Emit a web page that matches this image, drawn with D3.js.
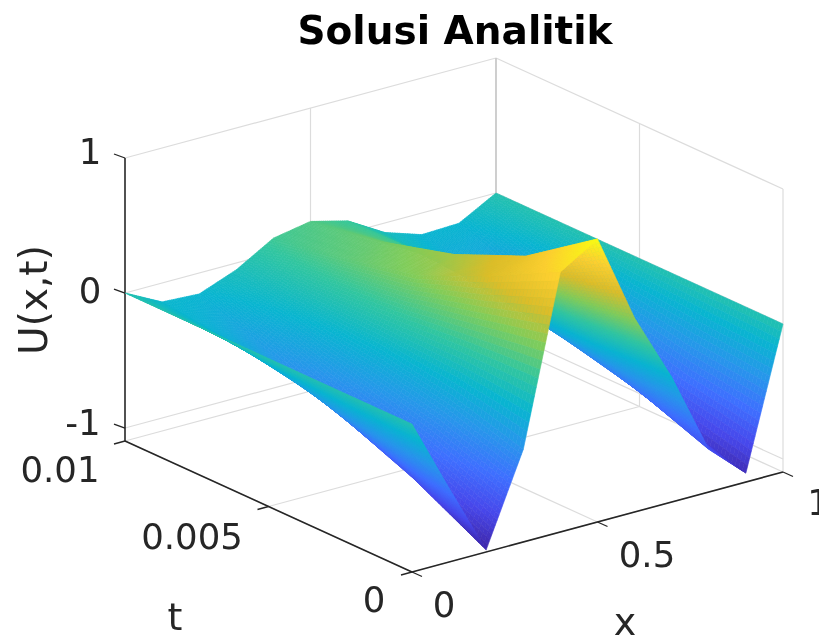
<!DOCTYPE html>
<html>
<head>
<meta charset="utf-8">
<style>
  html, body { margin: 0; padding: 0; background: #fff; overflow: hidden; }
  text { font-family: "DejaVu Sans", sans-serif; fill: #262626; }
  #chart { filter: blur(0.45px); }
</style>
</head>
<body>
<svg id="chart" width="819" height="639"></svg>
<script src="https://d3js.org/d3.v7.min.js"></script>
<script>
// grid of the surface
const xValues = [0, 0.1, 0.2, 0.3, 0.4, 0.5, 0.6, 0.7, 0.8, 0.9, 1]
const tValues = [0, 0.0025, 0.005, 0.0075, 0.01]

// U(x,t), one list per time step
const uAt0 = [0, -0.55, -1.08, -0.41, 0.83, 1.0, 0.34, -0.17, -0.78, -1.03, 0]
const uAt1 = [0, -0.42, -0.80, -0.25, 0.55, 0.63, 0.22, -0.22, -0.58, -0.88, 0]
const uAt2 = [0, -0.30, -0.58, -0.15, 0.32, 0.40, 0.15, -0.20, -0.45, -0.64, 0]
const uAt3 = [0, -0.20, -0.35, -0.10, 0.20, 0.25, 0.10, -0.12, -0.30, -0.35, 0]
const uAt4 = [0, -0.14, -0.155, -0.05, 0.11, 0.16, 0.09, -0.07, -0.16, -0.15, 0]
const uRows = [uAt0, uAt1, uAt2, uAt3, uAt4]

const xTicks = [0, 0.5, 1]
const tTicks = [0, 0.005, 0.01]
const uTicks = [-1, 0, 1]
const xDomain = [0, 1]
const tDomain = [0, 0.01]
const uDomain = [-1.096, 1]

// parula(10)
const parula = ["#3e26a8", "#4747eb", "#3e6fff", "#2796eb", "#08b5d0", "#31c69f", "#81cc59", "#dcbd29", "#fccf30", "#f9fb14"]

// orthographic view: every data axis moves the point by its own screen vector
const originX = 412, originY = 572
const xToPx = d3.scaleLinear().domain(xDomain).range([0, 371])
const xToPy = d3.scaleLinear().domain(xDomain).range([0, -100])
const tToPx = d3.scaleLinear().domain(tDomain).range([0, -287])
const tToPy = d3.scaleLinear().domain(tDomain).range([0, -131])
const uToPy = d3.scaleLinear().domain(uDomain).range([0, -283])

function project(x, t, u) {
  return [originX + xToPx(x) + tToPx(t), originY + xToPy(x) + tToPy(t) + uToPy(u)]
}

const allU = uRows.flat()
const colorPos = parula.map((c, i) => i / (parula.length - 1))
const fracOfU = d3.scaleLinear().domain(d3.extent(allU)).range([0, 1])
const fracToColor = d3.scaleLinear().domain(colorPos).range(parula).interpolate(d3.interpolateRgb)
const color = u => fracToColor(fracOfU(u))

const svg = d3.select("#chart")
const line = d3.line()

function segment(p, q, stroke, width) {
  svg.append("path").attr("d", line([p, q])).attr("fill", "none")
    .attr("stroke", stroke).attr("stroke-width", width)
}

// grid on the two back walls and the floor
const gridColor = "#dcdcdc"
const x0 = xDomain[0], x1 = xDomain[1], t0 = tDomain[0], t1 = tDomain[1], uLo = uDomain[0], uHi = uDomain[1]
uTicks.forEach(u => {
  segment(project(x0, t1, u), project(x1, t1, u), gridColor, 1.2)
  segment(project(x1, t1, u), project(x1, t0, u), gridColor, 1.2)
})
xTicks.forEach(x => {
  segment(project(x, t0, uLo), project(x, t1, uLo), gridColor, 1.2)
  if (x > 0) segment(project(x, t1, uLo), project(x, t1, uHi), gridColor, 1.2)
})
tTicks.forEach(t => {
  segment(project(x0, t, uLo), project(x1, t, uLo), gridColor, 1.2)
  if (t < t1) segment(project(x1, t, uLo), project(x1, t, uHi), gridColor, 1.2)
})
segment(project(x1, t1, uLo), project(x1, t1, uHi), "#c4c4c4", 1.4)

// axis lines and ticks
const axisColor = "#262626"
segment(project(x0, t0, uLo), project(x1, t0, uLo), axisColor, 1.6)
segment(project(x0, t0, uLo), project(x0, t1, uLo), axisColor, 1.6)
segment(project(x0, t1, uLo), project(x0, t1, uHi), axisColor, 1.6)
xTicks.forEach(x => {
  const p = project(x, t0, uLo)
  segment(p, [p[0] + 10, p[1] + 4.5], axisColor, 1.3)
})
tTicks.forEach(t => {
  const p = project(x0, t, uLo)
  segment(p, [p[0] - 11, p[1] + 3], axisColor, 1.3)
})
uTicks.forEach(u => {
  const p = project(x0, t1, u)
  segment(p, [p[0] - 11, p[1] - 4], axisColor, 1.3)
})

// surface, painted back to front (t high to low, then x high to low),
// each cell split up so the colour runs smoothly
const steps = 20
const cells = []
for (let j = tValues.length - 2; j >= 0; j--) {
  for (let i = xValues.length - 2; i >= 0; i--) {
    const uAt = (a, b) => {
      const lo = uRows[j][i] * (1 - a) + uRows[j][i + 1] * a
      const hi = uRows[j + 1][i] * (1 - a) + uRows[j + 1][i + 1] * a
      return lo * (1 - b) + hi * b
    }
    const pt = (a, b) => project(
      xValues[i] + (xValues[i + 1] - xValues[i]) * a,
      tValues[j] + (tValues[j + 1] - tValues[j]) * b,
      uAt(a, b))
    for (let b = steps - 1; b >= 0; b--) {
      for (let a = steps - 1; a >= 0; a--) {
        const a0 = a / steps, a1 = (a + 1) / steps, b0 = b / steps, b1 = (b + 1) / steps
        cells.push({
          path: [pt(a0, b0), pt(a1, b0), pt(a1, b1), pt(a0, b1)],
          u: uAt((a0 + a1) / 2, (b0 + b1) / 2)
        })
      }
    }
  }
}
svg.append("g").selectAll("path").data(cells).join("path")
  .attr("d", d => line(d.path) + "Z")
  .attr("fill", d => color(d.u))
  .attr("stroke", d => color(d.u))
  .attr("stroke-width", 0.6)

// texts
function label(txt, x, y, size, weight, anchor) {
  return svg.append("text").attr("x", x).attr("y", y).attr("font-size", size)
    .attr("font-weight", weight || "normal").attr("text-anchor", anchor || "middle").text(txt)
}
label("Solusi Analitik", 455, 44, 39, "bold").style("fill", "#000")
label("1", 90, 164, 35.5)
label("0", 90, 303, 35.5)
label("-1", 83, 435, 35.5)
label("0.01", 60, 482, 35.5)
label("0.005", 192, 549, 35.5)
label("0", 374, 612, 35.5)
label("0", 444, 617, 35.5)
label("0.5", 647, 567, 35.5)
label("1", 818.5, 515, 35.5)
label("t", 175, 630, 38)
label("x", 625, 635, 38)
label("U(x,t)", 0, 0, 39).attr("transform", "translate(47,300) rotate(-90)")
</script>
</body>
</html>
